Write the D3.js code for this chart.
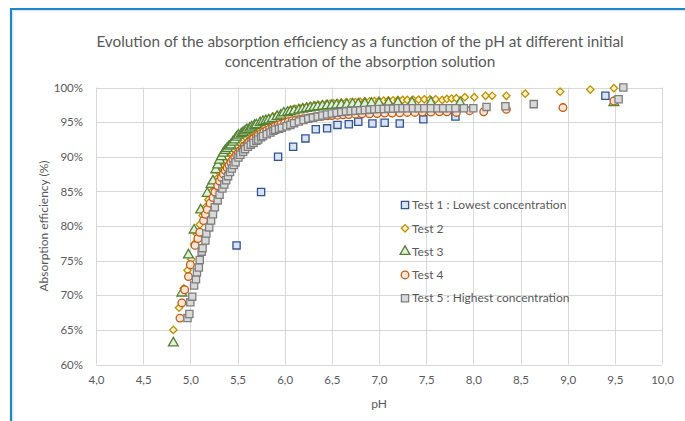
<!DOCTYPE html>
<html lang="en">
<head>
    <meta charset="UTF-8">
    <title>Absorption efficiency vs pH</title>
    <script src="https://d3js.org/d3.v7.min.js"></script>
    <style>
        body { margin: 0; background: #fff; }
        text { font-family: Lato, "Open Sans", sans-serif; fill: #595959; }
    </style>
</head>
<body>
    <svg width="685" height="421"></svg>

    <script>
        // Data: [pH, efficiency %]
        const test1 = [[5.49,77.2],[5.75,84.9],[5.93,90.0],[6.09,91.45],[6.22,92.65],[6.33,93.96],[6.45,94.1],[6.56,94.6],[6.68,94.7],[6.78,95.06],[6.93,94.8],[7.06,94.9],[7.22,94.8],[7.47,95.4],[7.81,95.8],[9.40,98.8]];

        const test2 = [[4.82,65.0],[4.88,68.2],[4.93,71.0],[4.97,73.6],[5.01,75.2],[5.04,77.4],[5.07,78.8],[5.10,80.2],[5.13,81.5],[5.16,82.7],[5.19,83.8],[5.22,84.9],[5.25,85.9],[5.28,86.8],[5.31,87.7],[5.34,88.5],[5.37,89.2],[5.40,89.9],[5.43,90.5],[5.46,91.1],[5.49,91.6],[5.52,92.1],[5.55,92.5],[5.58,92.9],[5.61,93.3],[5.64,93.7],[5.67,94.0],[5.70,94.3],[5.73,94.6],[5.76,94.9],[5.80,95.2],[5.84,95.5],[5.88,95.8],[5.92,96.0],[5.96,96.2],[6.00,96.4],[6.04,96.6],[6.08,96.8],[6.12,96.9],[6.16,97.0],[6.20,97.1],[6.24,97.2],[6.28,97.3],[6.32,97.4],[6.36,97.5],[6.40,97.55],[6.44,97.6],[6.48,97.65],[6.52,97.7],[6.56,97.75],[6.60,97.8],[6.65,97.85],[6.70,97.9],[6.75,97.9],[6.80,97.95],[6.85,98.0],[6.90,98.0],[6.95,98.05],[7.00,98.1],[7.05,98.1],[7.10,98.15],[7.15,98.15],[7.20,98.2],[7.25,98.2],[7.30,98.2],[7.36,98.25],[7.42,98.25],[7.48,98.3],[7.54,98.3],[7.60,98.3],[7.67,98.2],[7.72,98.35],[7.77,98.4],[7.82,98.45],[7.91,98.6],[8.01,98.6],[8.13,98.8],[8.20,98.8],[8.35,98.8],[8.55,99.1],[8.92,99.4],[9.24,99.7],[9.49,99.9]];

        const test3 = [[4.82,63.1],[4.91,70.3],[4.98,75.8],[5.04,79.4],[5.11,82.3],[5.18,84.7],[5.22,86.0],[5.24,86.5],[5.27,88.1],[5.29,88.8],[5.31,89.5],[5.33,90.0],[5.35,90.5],[5.37,90.9],[5.39,91.2],[5.41,91.5],[5.43,91.7],[5.45,92.1],[5.47,92.4],[5.49,92.8],[5.51,93.1],[5.54,93.3],[5.56,93.5],[5.58,93.7],[5.60,93.9],[5.63,94.1],[5.65,94.3],[5.68,94.5],[5.70,94.6],[5.74,94.9],[5.77,95.1],[5.80,95.2],[5.83,95.3],[5.87,95.5],[5.92,95.8],[5.96,96.0],[5.99,96.3],[6.03,96.4],[6.06,96.5],[6.10,96.6],[6.15,96.75],[6.19,96.85],[6.23,96.95],[6.27,97.05],[6.31,97.15],[6.35,97.2],[6.40,97.3],[6.45,97.35],[6.50,97.4],[6.55,97.45],[6.60,97.5],[6.66,97.55],[6.72,97.6],[6.78,97.6],[6.85,97.65],[6.92,97.7],[7.00,97.7],[7.10,97.75],[7.20,97.8],[7.35,97.8],[7.55,97.8],[7.86,97.8],[9.49,97.8]];

        const test4 = [[4.89,66.7],[4.91,68.9],[4.94,70.8],[4.98,72.7],[5.00,74.4],[5.05,77.2],[5.08,78.2],[5.10,79.1],[5.14,80.8],[5.16,81.7],[5.18,82.4],[5.21,83.3],[5.24,84.1],[5.26,84.9],[5.29,85.8],[5.31,86.5],[5.33,87.0],[5.35,87.5],[5.37,88.0],[5.39,88.4],[5.41,88.8],[5.43,89.2],[5.45,89.6],[5.47,89.95],[5.49,90.3],[5.51,90.6],[5.53,90.9],[5.55,91.2],[5.57,91.5],[5.60,91.85],[5.62,92.1],[5.65,92.4],[5.67,92.6],[5.70,92.9],[5.72,93.1],[5.75,93.35],[5.78,93.6],[5.81,93.8],[5.84,94.0],[5.87,94.2],[5.90,94.4],[5.93,94.55],[5.96,94.7],[6.00,94.9],[6.04,95.05],[6.08,95.2],[6.12,95.3],[6.16,95.4],[6.20,95.5],[6.25,95.6],[6.30,95.7],[6.35,95.8],[6.40,95.85],[6.45,95.9],[6.50,95.95],[6.56,96.0],[6.62,96.05],[6.68,96.1],[6.75,96.15],[6.82,96.2],[6.90,96.2],[6.98,96.25],[7.06,96.3],[7.14,96.3],[7.22,96.35],[7.30,96.4],[7.38,96.4],[7.46,96.45],[7.55,96.45],[7.64,96.5],[7.72,96.5],[7.82,96.4],[7.96,96.65],[8.11,96.5],[8.35,96.85],[8.95,97.1],[9.49,98.05]];

        const test5 = [[4.97,66.7],[4.99,67.3],[5.00,69.0],[5.02,69.8],[5.04,71.4],[5.06,72.3],[5.07,73.3],[5.09,74.0],[5.10,75.1],[5.12,76.3],[5.13,76.8],[5.16,77.9],[5.17,78.9],[5.20,79.8],[5.22,80.8],[5.24,81.7],[5.26,82.7],[5.29,83.7],[5.31,84.5],[5.34,85.4],[5.36,86.0],[5.38,86.6],[5.40,87.2],[5.42,87.8],[5.44,88.3],[5.46,88.8],[5.48,89.2],[5.51,89.9],[5.53,90.3],[5.56,90.7],[5.58,91.1],[5.61,91.45],[5.64,91.75],[5.67,92.0],[5.70,92.3],[5.72,92.5],[5.75,92.8],[5.77,93.0],[5.81,93.25],[5.85,93.5],[5.88,93.75],[5.90,93.9],[5.94,94.05],[5.97,94.2],[6.02,94.4],[6.06,94.6],[6.10,94.85],[6.15,95.1],[6.20,95.3],[6.25,95.5],[6.30,95.65],[6.35,95.8],[6.40,95.95],[6.45,96.1],[6.50,96.25],[6.55,96.35],[6.60,96.45],[6.65,96.55],[6.70,96.6],[6.75,96.65],[6.80,96.7],[6.85,96.75],[6.90,96.8],[6.95,96.85],[7.00,96.9],[7.05,96.9],[7.10,96.95],[7.15,96.95],[7.20,97.0],[7.25,97.0],[7.30,97.0],[7.36,97.0],[7.42,97.0],[7.48,97.0],[7.55,97.0],[7.62,97.0],[7.68,97.0],[7.75,97.0],[7.81,97.0],[7.90,97.0],[8.00,97.0],[8.14,97.2],[8.34,97.3],[8.64,97.6],[9.54,98.3],[9.59,100.0]];

        const seriesNames = ["Test 1 : Lowest concentration", "Test 2", "Test 3", "Test 4", "Test 5 : Highest concentration"];
        const xTicks = [4, 4.5, 5, 5.5, 6, 6.5, 7, 7.5, 8, 8.5, 9, 9.5, 10];
        const yTicks = [60, 65, 70, 75, 80, 85, 90, 95, 100];

        const width = 685;
        const height = 421;
        const plot = {left: 96, right: 662, top: 87.5, bottom: 364.5};

        const svg = d3.select("svg");

        // outer chart frame (blue edge on top/left, as cropped in the source)
        svg.append("path")
            .attr("d", `M11,${height} V9 H${width}`)
            .attr("fill", "none")
            .attr("stroke", "#1f87c4")
            .attr("stroke-width", 2.2);
        svg.append("path")
            .attr("d", `M12.8,${height} V10.8 H${width}`)
            .attr("fill", "none")
            .attr("stroke", "#c9d6de")
            .attr("stroke-width", 0.8);

        const x = d3.scaleLinear().domain([4, 10]).range([plot.left, plot.right]);
        const y = d3.scaleLinear().domain([60, 100]).range([plot.bottom, plot.top]);

        // gridlines
        svg.append("g")
            .selectAll("line")
            .data(xTicks)
            .join("line")
            .attr("x1", d => Math.round(x(d)) + 0.5)
            .attr("x2", d => Math.round(x(d)) + 0.5)
            .attr("y1", plot.top)
            .attr("y2", plot.bottom)
            .attr("stroke", "#d9d9d9");
        svg.append("g")
            .selectAll("line")
            .data(yTicks)
            .join("line")
            .attr("x1", plot.left)
            .attr("x2", plot.right)
            .attr("y1", d => Math.round(y(d)) + 0.5)
            .attr("y2", d => Math.round(y(d)) + 0.5)
            .attr("stroke", "#d9d9d9");

        // axes (labels only, lines come from the grid)
        const fmtX = d => d3.format(".1f")(d).replace(".", ",");
        const xAxis = svg.append("g")
            .attr("transform", `translate(0,${plot.bottom})`)
            .call(d3.axisBottom(x).tickValues(xTicks).tickFormat(fmtX).tickSize(0).tickPadding(11));
        xAxis.select(".domain").remove();
        xAxis.selectAll("text").attr("font-size", "11.5px").attr("font-family", "Lato").attr("fill", "#595959");

        const yAxis = svg.append("g")
            .attr("transform", `translate(${plot.left},0)`)
            .call(d3.axisLeft(y).tickValues(yTicks).tickFormat(d => d + "%").tickSize(0).tickPadding(13));
        yAxis.select(".domain").remove();
        yAxis.selectAll("text").attr("font-size", "11.5px").attr("font-family", "Lato").attr("fill", "#595959");

        // markers
        const diamond = r => `M0,${-r}L${r},0L0,${r}L${-r},0Z`;
        const styles = [
            {path: d3.symbol(d3.symbolSquare, 52)(), fill: "#dae3f3", stroke: "#2f5597"},
            {path: diamond(3.7), fill: "#fff2cc", stroke: "#bf9000"},
            {path: d3.symbol(d3.symbolTriangle, 42)(), fill: "#e2f0d9", stroke: "#548235"},
            {path: d3.symbol(d3.symbolCircle, 46)(), fill: "#fbe5d6", stroke: "#c55a11"},
            {path: d3.symbol(d3.symbolSquare, 52)(), fill: "#d9d9d9", stroke: "#7f7f7f"}
        ];
        const allSeries = [test1, test2, test3, test4, test5];

        allSeries.forEach((data, i) => {
            svg.append("g")
                .selectAll("path")
                .data(data)
                .join("path")
                .attr("d", styles[i].path)
                .attr("transform", d => `translate(${x(d[0])},${y(d[1])})`)
                .attr("fill", styles[i].fill)
                .attr("stroke", styles[i].stroke)
                .attr("stroke-width", 1.3);
        });

        // title
        svg.append("text")
            .attr("text-anchor", "middle")
            .attr("x", 360)
            .attr("y", 47)
            .style("font-size", "15.3px")
            .text("Evolution of the absorption efficiency as a function of the pH at different initial");
        svg.append("text")
            .attr("text-anchor", "middle")
            .attr("x", 360)
            .attr("y", 67)
            .style("font-size", "15.3px")
            .text("concentration of the absorption solution");

        // axis titles
        svg.append("text")
            .attr("text-anchor", "middle")
            .attr("x", 379)
            .attr("y", 408)
            .style("font-size", "12px")
            .text("pH");
        svg.append("text")
            .attr("text-anchor", "middle")
            .attr("transform", `translate(48,${(plot.top + plot.bottom) / 2}) rotate(-90)`)
            .style("font-size", "12px")
            .text("Absorption efficiency (%)");

        // legend
        const legend = svg.append("g").attr("transform", "translate(405,205)");
        seriesNames.forEach((name, i) => {
            const row = legend.append("g").attr("transform", `translate(0,${i * 23.3})`);
            row.append("path")
                .attr("d", styles[i].path)
                .attr("fill", styles[i].fill)
                .attr("stroke", styles[i].stroke)
                .attr("stroke-width", 1.3);
            row.append("text")
                .attr("x", 7)
                .attr("dy", "0.35em")
                .style("font-size", "12px")
                .text(name);
        });
    </script>
</body>
</html>
